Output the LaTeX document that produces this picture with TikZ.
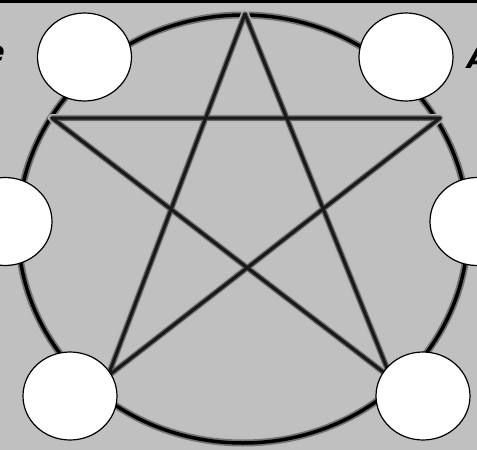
\documentclass[tikz,border=0pt]{standalone}
\usepackage{fontspec}
\setmainfont{Liberation Sans}
\newfontfamily\markfont{DejaVu Sans}
\usetikzlibrary{shapes.geometric}
\definecolor{bggray}{RGB}{192,192,192}

\begin{document}
\begin{tikzpicture}[x=1pt,y=-1pt,
  spot/.style={draw,ellipse,fill=white,line width=1.2pt,minimum width=94pt,minimum height=88pt,inner sep=0pt},
  halo/.style={line width=11pt,black!25,line cap=round},
  mid/.style={line width=7pt,black!55,line cap=round},
  ink/.style={line width=3.5pt,black,line cap=round},
  shalo/.style={line width=8pt,black!28,line cap=round},
  smid/.style={line width=5.5pt,black!62,line cap=round},
  sink/.style={line width=3pt,black!90,line cap=round},
  lbl/.style={font=\markfont\bfseries\itshape\fontsize{28}{32}\selectfont,inner sep=0pt}]
  \clip (0,0) rectangle (477,450);
  % background and top edge
  \fill[bggray] (0,0) rectangle (477,450);
  \fill[black] (0,0) rectangle (477,3);
  % outer ring
  \coordinate (mid) at (243,229);
  \foreach \s in {halo,mid,ink}
    \draw[\s] (mid) ellipse [x radius=225, y radius=214];
  % star points
  \coordinate (top) at (245,14);
  \coordinate (lft) at (52,118);
  \coordinate (rgt) at (440,118);
  \coordinate (bl) at (108,376);
  \coordinate (br) at (391,378);
  \foreach \s in {shalo,smid,sink}
    \draw[\s,line join=round] (top) -- (bl) -- (rgt) -- (lft) -- (br) -- cycle;
  % blank spots
  \node[spot] (spotTL) at (84.5,57) {};
  \node[spot] (spotTR) at (406,57) {};
  \node[spot] (spotML) at (5,221.5) {};
  \node[spot] (spotMR) at (477,221.5) {};
  \node[spot] (spotBL) at (70,396) {};
  \node[spot] (spotBR) at (423,396) {};
  % cut-off words
  \node[lbl,anchor=east] (wordL) at (5,54) {e};
  \node[lbl,anchor=west] (wordR) at (467,58) {A};
\end{tikzpicture}
\end{document}
